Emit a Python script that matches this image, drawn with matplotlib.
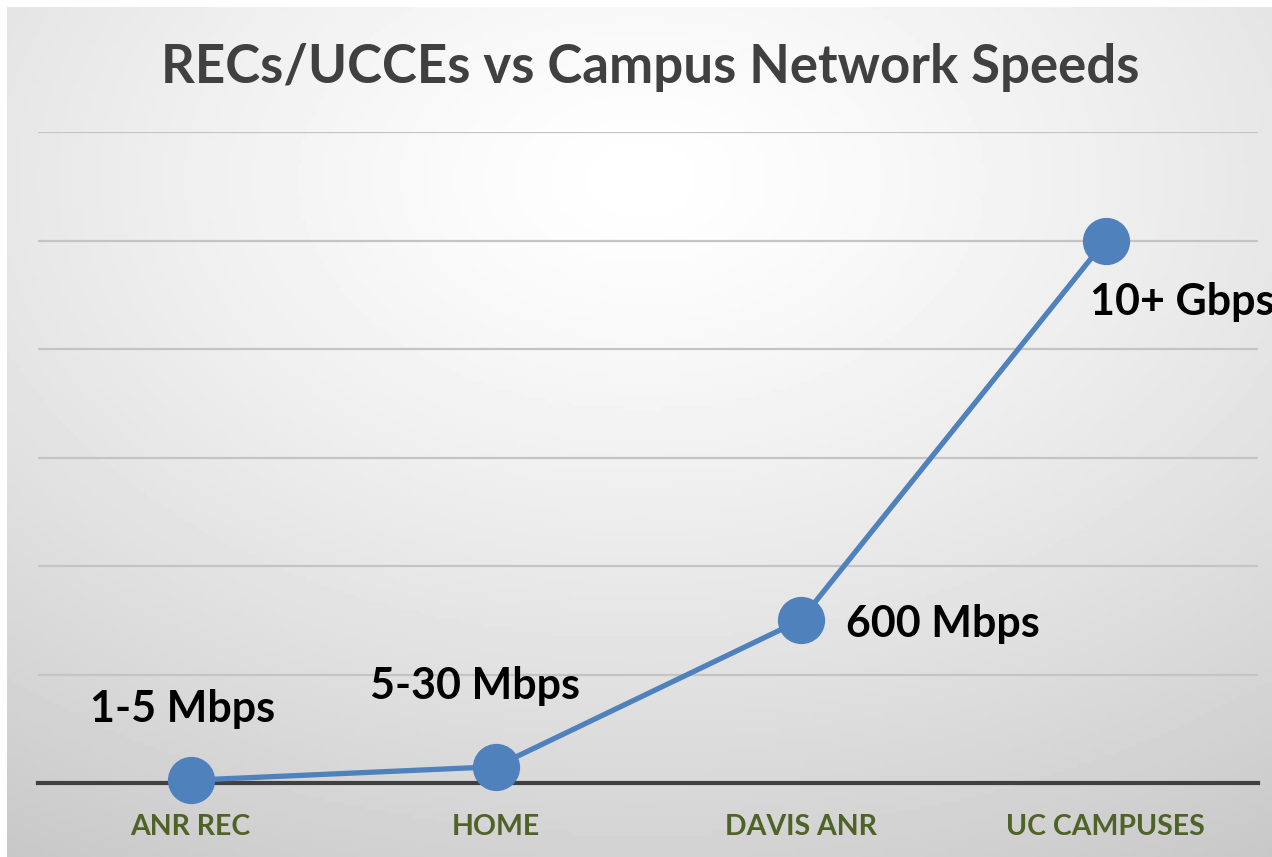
import matplotlib
matplotlib.use("Agg")
import matplotlib.pyplot as plt
import numpy as np

categories = ["ANR REC", "HOME", "DAVIS ANR", "UC CAMPUSES"]
values = [5, 30, 300, 1000]
labels = ["1-5 Mbps", "5-30 Mbps", "600 Mbps", "10+ Gbps"]
title = "RECs/UCCEs vs Campus Network Speeds"

fam = ['Lato', 'DejaVu Sans']

W, H = 1272, 857
fig = plt.figure(figsize=(W/100, H/100), dpi=100)

# background gradient
bg = fig.add_axes([7/W, 0, (W-7)/W, (H-7)/H])
bg.set_axis_off()
yy, xx = np.mgrid[0:200, 0:300]
cx, cy = 150, 40
r = np.sqrt(((xx-cx)/300)**2 + ((yy-cy)/200)**2)
v = 1.0 - 0.22*np.clip(r/0.95, 0, 1)**1.3
bg.imshow(v, cmap='gray', vmin=0, vmax=1, aspect='auto', extent=[0, 1, 0, 1], origin='upper')
bg.set_xlim(0, 1); bg.set_ylim(0, 1)

x0, x1 = 38, 1258
ytop, ybot = 132, 783
ax = fig.add_axes([x0/W, (H-ybot)/H, (x1-x0)/W, (ybot-ytop)/H])
ax.patch.set_alpha(0)
xs = np.arange(len(categories)) + 0.5
ax.set_xlim(0, len(categories))
ax.set_ylim(0, 1200)
for s in ax.spines.values():
    s.set_visible(False)
ax.set_yticks(np.arange(0, 1201, 200))
ax.tick_params(axis='y', left=False, labelleft=False)
ax.tick_params(axis='x', bottom=False, pad=19)
for yv in np.arange(200, 1201, 200):
    ax.axhline(yv, color='#c4c4c4', lw=1.6, zorder=1)
ax.axhline(0, color='#404040', lw=3, zorder=2, clip_on=False)
ax.set_xticks(xs)
ax.set_xticklabels(categories, fontsize=20.5, fontweight='bold', color='#4f6228', family=fam)

ax.plot(xs, values, color='#4f81bd', lw=3.8, marker='o', markersize=33,
        zorder=4, clip_on=False, solid_capstyle='round')

offs = [(-8, 71, 'center'), (-21, 81, 'center'), (45, -4, 'left'), (-15, -61, 'left')]
for xv, yv, lab, (dx, dy, ha) in zip(xs, values, labels, offs):
    ax.annotate(lab, (xv, yv), xytext=(dx, dy), textcoords='offset pixels',
                ha=ha, va='center', fontsize=31, fontweight='bold', color='black',
                family=fam, zorder=5, annotation_clip=False)

fig.text(650/W, 1 - 67/H, title, ha='center', va='center', fontsize=38,
         fontweight='bold', color='#404040', family=fam)

fig.savefig('out.png', dpi=100)
